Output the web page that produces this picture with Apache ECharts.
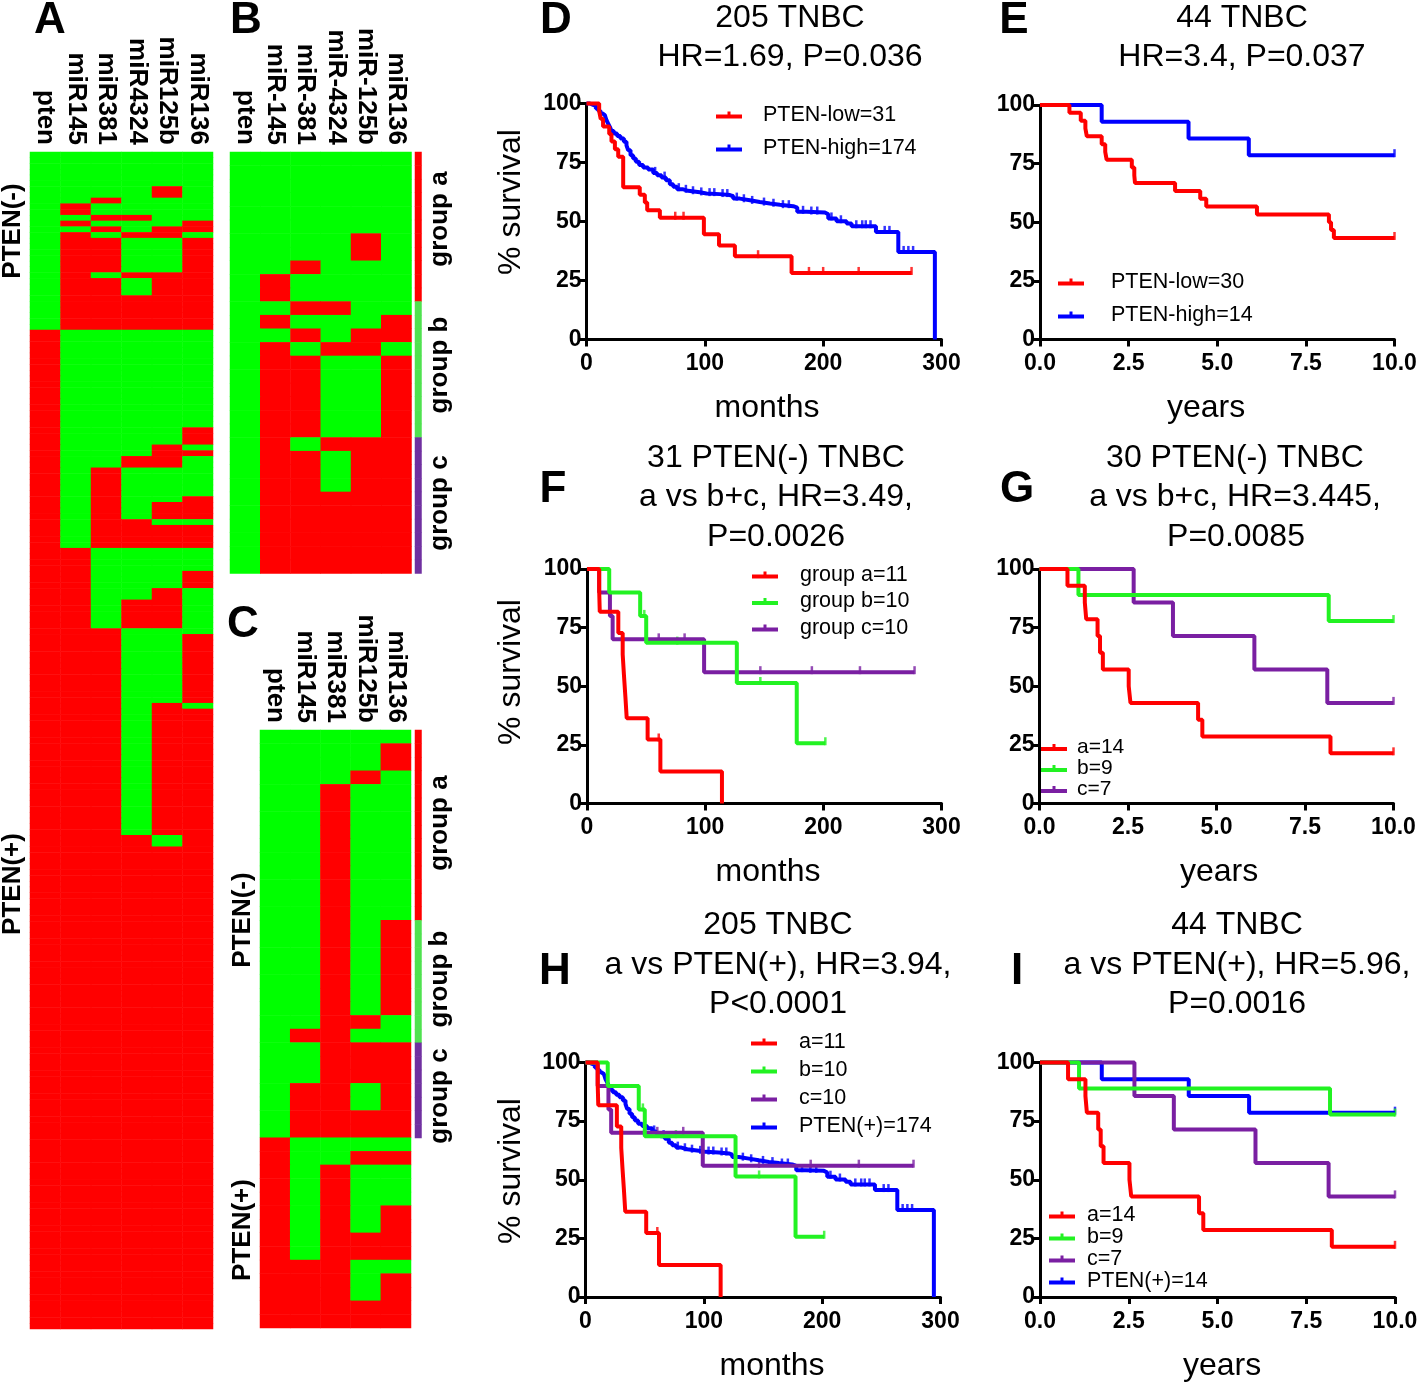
<!DOCTYPE html>
<html>
<head>
<meta charset="utf-8">
<script src="https://cdn.jsdelivr.net/npm/echarts@6/dist/echarts.min.js"></script>
<style>
  html, body { margin: 0; padding: 0; background: #fff; }
  #chart { width: 1418px; height: 1384px; }
</style>
</head>
<body>
<div id="chart"></div>
<script>
const FONT = '"Liberation Sans", Arial, sans-serif';

// heatmap columns
const colsA = ['pten', 'miR145', 'miR381', 'miR4324', 'miR125b', 'miR136'];
const colsB = ['pten', 'miR-145', 'miR-381', 'miR-4324', 'miR-125b', 'miR136'];
const colsC = ['pten', 'miR145', 'miR381', 'miR125b', 'miR136'];

// heatmap rows as runs: [number of rows, pattern]  1 = red, 0 = green
const heatA = [
  [6, '000000'], [2, '000010'], [1, '001000'], [2, '010000'], [1, '001100'],
  [1, '010001'], [1, '001011'], [1, '010110'], [6, '011001'], [1, '010111'],
  [3, '011011'], [6, '011111'],
  // PTEN(+)
  [17, '100000'], [3, '100001'], [1, '100010'], [1, '100011'], [2, '100110'],
  [5, '101000'], [1, '101001'], [3, '101011'], [1, '101100'], [4, '101111'],
  [4, '110000'], [3, '110001'], [2, '110010'], [5, '110110'], [1, '111000'],
  [12, '111001'], [1, '111010'], [22, '111011'], [2, '111101'], [84, '111111']
];
// B shows the 31 PTEN(-) rows of A
const heatB = heatA.slice(0, 12);
const heatC = [
  [1, '00000'], [2, '00001'], [1, '00010'], [10, '00100'], [7, '00101'],
  [1, '00110'], [1, '01100'], [3, '00111'], [2, '01101'], [2, '01111'],
  // PTEN(+)
  [1, '10000'], [1, '10011'], [3, '10100'], [2, '10101'], [2, '10111'],
  [1, '11100'], [2, '11101'], [2, '11111']
];
const groupsB = [[11, 'a'], [10, 'b'], [10, 'c']];
const groupsC = [[14, 'a'], [9, 'b'], [7, 'c']];

// Kaplan-Meier curves: [time, % survival after event]
// 205 TNBC, months
const lowD = [[0, 100], [10.7, 96.8], [12, 93.5], [14, 90.3], [19.2, 87.1], [21.1, 83.9], [24, 80.6],
  [26.8, 77.4], [31, 64.5], [45, 61.3], [49.3, 58.1], [51.3, 54.8], [62, 51.6], [99.2, 44.6],
  [112, 39.8], [125.4, 35.3], [173.3, 28.2], [274.7, 28.2]];
const lowDCens = [75, 82, 145, 188, 200, 230, 274.7];
const highD = [[0, 100], [2.8, 99.4], [5.6, 99], [7.9, 97.9], [9.9, 96.9], [11.8, 95.8], [13.5, 95.1],
  [15.5, 94.4], [16.9, 92.9], [18.3, 91.5], [19.7, 90.1], [21.1, 88.4], [23.1, 87.3], [25.9, 86.2],
  [28.7, 85.2], [31.6, 83.8], [33.8, 82.3], [35.2, 80.2], [37.2, 78.1], [39.4, 76.7], [41.7, 75.3],
  [44.5, 73.9], [47.9, 72.9], [52.1, 72.0], [56.4, 70.6], [59.7, 69.6], [63.4, 68.6], [67.1, 67.5],
  [70.4, 65.8], [73.3, 64.7], [76.6, 63.7], [81.1, 63.0], [85.9, 62.4], [95.8, 61.9], [101.4, 61.6],
  [112.7, 61.2], [121.2, 60.7], [124, 59.7], [129.6, 59.0], [138.1, 58.3], [146.5, 57.6], [155, 57.1],
  [163.4, 56.5], [174.7, 55.9], [178.1, 54.1], [186, 53.8], [201.5, 53.1], [204.3, 51.3], [211.3, 50.1],
  [219.8, 49.2], [224, 48.0], [244.6, 45.6], [263.5, 37.1], [294.4, 0]];
const highDCens = [58, 66, 78, 84, 90, 97, 104, 108, 115, 119, 127, 133, 140, 150, 158, 166, 171, 183,
  190, 195, 207, 215, 228, 233, 236, 240, 252, 256, 268, 272, 276];
// 44 TNBC, years
const lowE = [[0, 100], [0.83, 96.7], [1.15, 93.3], [1.28, 90], [1.32, 86.7], [1.74, 83.3], [1.84, 80],
  [1.88, 76.7], [2.59, 73.3], [2.66, 70], [2.68, 66.7], [3.81, 63.3], [4.52, 60], [4.69, 56.7],
  [6.12, 53.3], [8.15, 50], [8.21, 46.7], [8.29, 43.3], [10, 43.3]];
const lowECens = [10];
const highE = [[0, 100], [1.74, 92.9], [4.19, 85.7], [5.89, 78.6], [10, 78.6]];
const highECens = [10];
// PTEN(-) groups, months
const grpAm = [[0, 100], [10.3, 90.9], [10.8, 81.8], [26.5, 72.7], [30.2, 63.6], [31.3, 54.5],
  [32.5, 45.5], [33.6, 36.4], [51.3, 27.3], [62.1, 13.6], [114.2, 0]];
const grpAmCens = [60.7];
const grpBm = [[0, 100], [18.8, 90], [45, 80], [50.1, 68.6], [126.8, 51.4], [177.5, 25.7], [201.7, 25.7]];
const grpBmCens = [48.5, 76.4, 146.7, 201.7];
const grpCm = [[0, 100], [10.3, 90], [19.4, 80], [21.7, 70], [99.1, 56], [277.2, 56]];
const grpCmCens = [60.7, 82.6, 146.7, 190.3, 231, 277.2];
// PTEN(-) groups, years
const grpAy = [[0, 100], [0.79, 92.9], [1.28, 85.7], [1.32, 78.6], [1.64, 71.4], [1.71, 64.3],
  [1.79, 57.1], [2.52, 50], [2.57, 42.9], [4.48, 35.7], [4.6, 28.6], [8.22, 21.4], [10, 21.4]];
const grpAyCens = [10];
const grpBy = [[0, 100], [1.1, 88.9], [8.17, 77.8], [10, 77.8]];
const grpByCens = [10];
const grpCy = [[0, 100], [2.66, 85.7], [3.77, 71.4], [6.07, 57.1], [8.13, 42.9], [10, 42.9]];
const grpCyCens = [10];

const RED = '#ff0000', BLUE = '#0000ff', GREEN = '#22f222', PURPLE = '#7a1fa2';

function expand (runs) {
  const rows = [];
  runs.forEach(([n, p]) => { for (let i = 0; i < n; i++) rows.push(p); });
  return rows;
}
function heatData (runs) {
  const out = [];
  expand(runs).forEach((p, r) => {
    for (let c = 0; c < p.length; c++) out.push([c, r, +p[c]]);
  });
  return out;
}
function groupData (groups) {
  const code = { a: 2, b: 3, c: 4 };
  const out = [];
  let r = 0;
  groups.forEach(([n, g]) => { for (let i = 0; i < n; i++) out.push([0, r++, code[g]]); });
  return out;
}
function nRows (runs) { return runs.reduce((s, d) => s + d[0], 0); }
function range (n) { return Array.from({ length: n }, (_, i) => String(i)); }
function stepAt (curve, t) {
  let y = curve[0][1];
  curve.forEach(([x, v]) => { if (x <= t) y = v; });
  return y;
}

const grid = [], xAxis = [], yAxis = [], series = [];

function addGrid (left, top, width, height) {
  grid.push({ left, top, width, height, outerBoundsMode: 'none' });
  return grid.length - 1;
}
function heatPanel (cols, runs, box) {
  const gi = addGrid(...box);
  xAxis.push({
    gridIndex: gi, type: 'category', data: cols, position: 'top',
    axisLine: { show: false }, axisTick: { show: false }, splitLine: { show: false },
    axisLabel: { rotate: 90, interval: 0, margin: 7, fontSize: 26, fontWeight: 'bold', color: '#000', fontFamily: FONT }
  });
  yAxis.push({ gridIndex: gi, type: 'category', data: range(nRows(runs)), inverse: true, show: false });
  series.push({
    type: 'heatmap', xAxisIndex: gi, yAxisIndex: gi, data: heatData(runs),
    itemStyle: { borderWidth: 0 }, emphasis: { disabled: true }, silent: true
  });
}
function groupBar (groups, box) {
  const gi = addGrid(...box);
  xAxis.push({ gridIndex: gi, type: 'category', data: ['g'], show: false });
  yAxis.push({ gridIndex: gi, type: 'category', data: range(nRows(groups)), inverse: true, show: false });
  series.push({
    type: 'heatmap', xAxisIndex: gi, yAxisIndex: gi, data: groupData(groups),
    itemStyle: { borderWidth: 0 }, emphasis: { disabled: true }, silent: true
  });
}

const axisLineStyle = { show: true, lineStyle: { color: '#000', width: 3 } };
const tickStyle = { show: true, length: 7, lineStyle: { color: '#000', width: 3 } };
const tickLabel = { fontSize: 23, fontWeight: 'bold', color: '#000', fontFamily: FONT };

function kmPanel (box, years) {
  const gi = addGrid(...box);
  xAxis.push({
    gridIndex: gi, type: 'value', min: 0, max: years ? 10 : 300, interval: years ? 2.5 : 100,
    axisLine: axisLineStyle, axisTick: tickStyle, splitLine: { show: false },
    axisLabel: Object.assign({ margin: 13, formatter: years ? (v => v.toFixed(1)) : '{value}' }, tickLabel)
  });
  yAxis.push({
    gridIndex: gi, type: 'value', min: 0, max: 100, interval: 25,
    axisLine: axisLineStyle, axisTick: tickStyle, splitLine: { show: false },
    axisLabel: Object.assign({ margin: 5 }, tickLabel)
  });
  return gi;
}
function km (gi, name, curve, cens, color) {
  series.push({
    type: 'line', name, step: 'end', data: curve, xAxisIndex: gi, yAxisIndex: gi,
    showSymbol: false, symbol: 'none', clip: false,
    lineStyle: { color, width: 4 }, itemStyle: { color }, emphasis: { disabled: true }
  });
  series.push({
    type: 'scatter', name: name + ' censored ' + gi, xAxisIndex: gi, yAxisIndex: gi,
    data: cens.map(t => [t, stepAt(curve, t)]),
    symbol: 'rect', symbolSize: [2.5, 8], symbolOffset: [0, -2],
    itemStyle: { color }, silent: true, clip: false
  });
}

// heatmaps
heatPanel(colsA, heatA, [30, 152, 183, 1177]);
heatPanel(colsB, heatB, [230, 152, 181.5, 421.5]);
groupBar(groupsB, [415, 152, 6.5, 421.5]);
heatPanel(colsC, heatC, [260, 730, 151, 598]);
groupBar(groupsC, [415, 730, 6.5, 408]);

// survival panels (later series drawn on top)
const gD = kmPanel([586.5, 103.5, 355, 236], false);
km(gD, 'PTEN-high=174', highD, highDCens, BLUE);
km(gD, 'PTEN-low=31', lowD, lowDCens, RED);

const gE = kmPanel([1040, 105, 354.5, 234.5], true);
km(gE, 'PTEN-high=14', highE, highECens, BLUE);
km(gE, 'PTEN-low=30', lowE, lowECens, RED);

const gF = kmPanel([587, 569, 354.5, 234.5], false);
km(gF, 'group c=10', grpCm, grpCmCens, PURPLE);
km(gF, 'group b=10', grpBm, grpBmCens, GREEN);
km(gF, 'group a=11', grpAm, grpAmCens, RED);

const gG = kmPanel([1039.5, 569, 354, 234.5], true);
km(gG, 'c=7', grpCy, grpCyCens, PURPLE);
km(gG, 'b=9', grpBy, grpByCens, GREEN);
km(gG, 'a=14', grpAy, grpAyCens, RED);

const gH = kmPanel([585.5, 1062.5, 355, 234.5], false);
km(gH, 'PTEN(+)=174', highD, highDCens, BLUE);
km(gH, 'c=10', grpCm, grpCmCens, PURPLE);
km(gH, 'b=10', grpBm, grpBmCens, GREEN);
km(gH, 'a=11', grpAm, grpAmCens, RED);

const gI = kmPanel([1040, 1062.5, 355, 234.5], true);
km(gI, 'PTEN(+)=14', highE, highECens, BLUE);
km(gI, 'c=7', grpCy, grpCyCens, PURPLE);
km(gI, 'b=9', grpBy, grpByCens, GREEN);
km(gI, 'a=14', grpAy, grpAyCens, RED);

const ICON = 'path://M0,3L26,3L26,7L0,7Z M11.5,0L14.5,0L14.5,3L11.5,3Z';
function legend (names, left, top, gap, pad, size, lh) {
  return {
    data: names, orient: 'vertical', left, top, padding: 0, itemGap: gap,
    itemWidth: 26, itemHeight: 7, icon: ICON, selectedMode: false,
    itemStyle: { borderWidth: 0 },
    textStyle: { fontSize: size, lineHeight: lh, color: '#000', fontFamily: FONT, padding: [0, 0, 0, pad] }
  };
}

function txt (text, x, y, size, bold, rot) {
  return {
    type: 'text', x, y, rotation: rot ? Math.PI / 2 : 0, silent: true,
    style: {
      text, fill: '#000', fontSize: size, fontWeight: bold ? 'bold' : 'normal', fontFamily: FONT,
      align: 'center', verticalAlign: 'middle', textAlign: 'center', textVerticalAlign: 'middle'
    }
  };
}

const letters = [['A', 50, 21], ['B', 246, 21], ['C', 243, 625], ['D', 556, 21], ['E', 1014, 21],
  ['F', 553, 490], ['G', 1017, 490], ['H', 555, 972], ['I', 1017, 972]];
const titles = [
  ['205 TNBC', 790, 18], ['HR=1.69, P=0.036', 790, 57],
  ['44 TNBC', 1242, 18], ['HR=3.4, P=0.037', 1242, 57],
  ['31 PTEN(-) TNBC', 776, 458], ['a vs b+c, HR=3.49,', 776, 497], ['P=0.0026', 776, 537],
  ['30 PTEN(-) TNBC', 1235, 458], ['a vs b+c, HR=3.445,', 1235, 497], ['P=0.0085', 1236, 537],
  ['205 TNBC', 778, 925], ['a vs PTEN(+), HR=3.94,', 778, 965], ['P<0.0001', 778, 1004],
  ['44 TNBC', 1237, 925], ['a vs PTEN(+), HR=5.96,', 1237, 965], ['P=0.0016', 1237, 1004]
];
const axisNames = [
  ['% survival', 511, 202, true], ['months', 767, 408], ['years', 1206, 408],
  ['% survival', 511, 672, true], ['months', 768, 872], ['years', 1219, 872],
  ['% survival', 511, 1171, true], ['months', 772, 1366], ['years', 1222, 1366]
];
const rowLabels = [
  ['PTEN(-)', 13, 231], ['PTEN(+)', 13, 884], ['PTEN(-)', 243, 920], ['PTEN(+)', 243, 1230],
  ['group a', 440, 219], ['group b', 440, 365], ['group c', 440, 503],
  ['group a', 440, 823], ['group b', 440, 979], ['group c', 440, 1096]
];

const graphics = []
  .concat(letters.map(d => txt(d[0], d[1], d[2], 44, true)))
  .concat(titles.map(d => txt(d[0], d[1], d[2], 32, false)))
  .concat(axisNames.map(d => txt(d[0], d[1], d[2], 32, false, d[3])))
  .concat(rowLabels.map(d => txt(d[0], d[1], d[2], 26, true, true)));

const chart = echarts.init(document.getElementById('chart'), null, { renderer: 'canvas' });
chart.setOption({
  backgroundColor: '#fff',
  animation: false,
  grid, xAxis, yAxis, series,
  visualMap: {
    type: 'piecewise', show: false, dimension: 2, seriesIndex: [0, 1, 2, 3, 4],
    pieces: [
      { value: 0, color: '#00ff00' }, { value: 1, color: '#ff0000' },
      { value: 2, color: '#ff0000' }, { value: 3, color: '#4fe24f' }, { value: 4, color: '#7030a0' }
    ]
  },
  legend: [
    legend(['PTEN-low=31', 'PTEN-high=174'], 716, 104, 11, 16, 21.5, 22),
    legend(['PTEN-low=30', 'PTEN-high=14'], 1058, 271, 11, 22, 21.5, 22),
    legend(['group a=11', 'group b=10', 'group c=10'], 752, 564, 4.5, 17, 21.5, 22),
    legend(['a=14', 'b=9', 'c=7'], 1041, 737, 0, 5, 21, 20),
    legend(['a=11', 'b=10', 'c=10', 'PTEN(+)=174'], 751, 1031, 6, 17, 21.5, 22),
    legend(['a=14', 'b=9', 'c=7', 'PTEN(+)=14'], 1049, 1204, 0, 7, 21.5, 21.3)
  ],
  graphic: graphics
});
</script>
</body>
</html>
